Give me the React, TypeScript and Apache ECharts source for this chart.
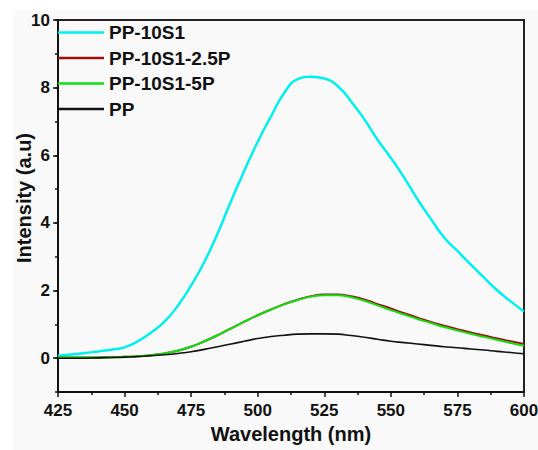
import React, { useEffect, useRef } from "react";
import * as echarts from "echarts";

const wavelengths = [425, 430, 435, 440, 445, 450, 455, 460, 465, 470, 475, 480, 485, 490, 495, 500, 505, 510, 515, 520, 525, 530, 535, 540, 545, 550, 555, 560, 565, 570, 575, 580, 585, 590, 595, 600];

const pp10s1 = [0.07, 0.11, 0.15, 0.2, 0.25, 0.32, 0.5, 0.76, 1.08, 1.55, 2.15, 2.85, 3.7, 4.65, 5.55, 6.4, 7.15, 7.85, 8.25, 8.32, 8.27, 8.05, 7.6, 7.07, 6.46, 5.92, 5.34, 4.7, 4.12, 3.57, 3.17, 2.77, 2.38, 2.0, 1.68, 1.38];
const pp10s1_25p = [0.02, 0.02, 0.02, 0.02, 0.03, 0.04, 0.06, 0.09, 0.14, 0.22, 0.34, 0.5, 0.68, 0.88, 1.08, 1.27, 1.44, 1.6, 1.73, 1.83, 1.88, 1.88, 1.83, 1.74, 1.6, 1.47, 1.33, 1.2, 1.07, 0.96, 0.86, 0.76, 0.67, 0.58, 0.5, 0.42];
const pp10s1_5p = [0.02, 0.02, 0.02, 0.02, 0.03, 0.04, 0.06, 0.09, 0.14, 0.22, 0.34, 0.5, 0.68, 0.88, 1.08, 1.27, 1.44, 1.59, 1.72, 1.82, 1.86, 1.86, 1.8, 1.7, 1.56, 1.42, 1.29, 1.16, 1.04, 0.92, 0.82, 0.72, 0.63, 0.54, 0.45, 0.37];
const pp = [0.0, 0.0, 0.0, 0.01, 0.02, 0.03, 0.05, 0.07, 0.1, 0.14, 0.19, 0.26, 0.34, 0.42, 0.5, 0.58, 0.64, 0.68, 0.71, 0.72, 0.72, 0.71, 0.67, 0.62, 0.56, 0.5, 0.46, 0.42, 0.38, 0.34, 0.31, 0.27, 0.24, 0.2, 0.17, 0.13];

const seriesNames = ["PP-10S1", "PP-10S1-2.5P", "PP-10S1-5P", "PP"];
const seriesColors = ["#00f0f0", "#a01010", "#10e010", "#111111"];
const seriesWidths = [2.5, 2, 2, 1.6];
const seriesValues = [pp10s1, pp10s1_25p, pp10s1_5p, pp];

const yMajorTicks = [0, 2, 4, 6, 8, 10];

const FONT = "'Liberation Sans', Arial, sans-serif";

export default function App() {
  const ref = useRef<HTMLDivElement>(null);
  useEffect(() => {
    if (!ref.current) return;
    const chart = echarts.init(ref.current, undefined, { renderer: "svg" });
    chart.setOption({
      animation: false,
      backgroundColor: "#ffffff",
      graphic: [
        {
          type: "rect",
          z: -10,
          silent: true,
          shape: { x: 13, y: 10, width: 525, height: 440 },
          style: { fill: "#f9f9f9" },
        },
      ],
      grid: {
        left: 58,
        top: 20,
        right: 14,
        bottom: 58,
        containLabel: false,
        outerBoundsMode: "none",
        show: true,
        borderColor: "#222",
        borderWidth: 2,
        backgroundColor: "transparent",
      },
      legend: {
        orient: "vertical",
        left: 58,
        top: 23,
        padding: 0,
        itemWidth: 46,
        itemHeight: 2.5,
        itemGap: 6.5,
        icon: "rect",
        data: seriesNames.map((name, i) => ({ name, itemStyle: { color: seriesColors[i] } })),
        textStyle: {
          fontFamily: FONT,
          fontWeight: "bold",
          fontSize: 19,
          color: "#111",
          lineHeight: 18,
        },
      },
      xAxis: {
        type: "value",
        min: 425,
        max: 600,
        interval: 25,
        name: "Wavelength (nm)",
        nameLocation: "middle",
        nameGap: 32,
        nameMoveOverlap: false,
        nameTextStyle: { fontFamily: FONT, fontWeight: "bold", fontSize: 20, color: "#111" },
        axisLine: { onZero: false, lineStyle: { color: "#111", width: 2 } },
        axisTick: { inside: false, length: 5, lineStyle: { color: "#111", width: 1.5 } },
        minorTick: { show: true, splitNumber: 2, length: 3, lineStyle: { color: "#111", width: 1.5 } },
        axisLabel: { margin: 10, fontFamily: FONT, fontWeight: "bold", fontSize: 17, color: "#111" },
        splitLine: { show: false },
      },
      yAxis: [
        {
          type: "value",
          min: -1,
          max: 10,
          name: "Intensity (a.u)",
          nameLocation: "middle",
          nameGap: 24,
          nameMoveOverlap: false,
          nameTextStyle: { fontFamily: FONT, fontWeight: "bold", fontSize: 20, color: "#111", padding: [0, 0, 0, 16] },
          axisLine: { show: true, onZero: false, lineStyle: { color: "#111", width: 2 } },
          axisTick: { show: true, length: 5, customValues: yMajorTicks, lineStyle: { color: "#111", width: 1.5 } },
          axisLabel: { customValues: yMajorTicks, margin: 8, fontFamily: FONT, fontWeight: "bold", fontSize: 17, color: "#111" },
          splitLine: { show: false },
        },
        {
          type: "value",
          min: -1,
          max: 10,
          interval: 1,
          position: "left",
          axisLine: { show: false, onZero: false },
          axisTick: { show: true, length: 3, lineStyle: { color: "#111", width: 1.5 } },
          axisLabel: { show: false },
          splitLine: { show: false },
        },
      ],
      series: seriesNames.map((name, i) => ({
        name,
        type: "line",
        yAxisIndex: 0,
        data: wavelengths.map((w, j) => [w, seriesValues[i][j]]),
        smooth: true,
        showSymbol: false,
        symbol: "none",
        lineStyle: { color: seriesColors[i], width: seriesWidths[i] },
        itemStyle: { color: seriesColors[i] },
        z: 2 + i,
      })),
    });
    return () => chart.dispose();
  }, []);
  return <div ref={ref} style={{ width: 538, height: 450, position: "absolute", left: 0, top: 0 }} />;
}
